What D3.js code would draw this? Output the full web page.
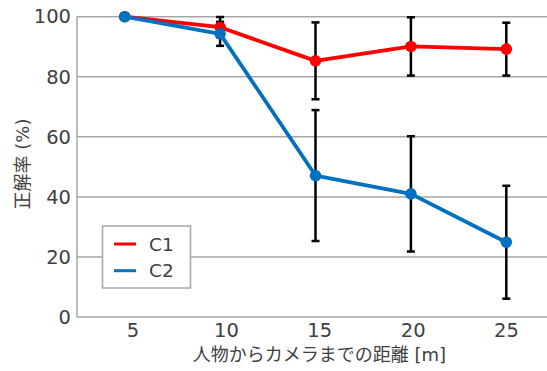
<!DOCTYPE html>
<html><head><meta charset="utf-8">
<script src="https://cdn.jsdelivr.net/npm/d3@7"></script>
<style>body{margin:0;background:#fff}svg{display:block}</style>
</head><body>
<svg id="c" width="547" height="371"></svg>
<script>
const categories = [5, 10, 15, 20, 25];
const c1Values = [100, 96.5, 85.3, 90.1, 89.2];
const c1Errors = [0, 3.4, 12.8, 9.7, 8.8];
const c2Values = [100, 94.3, 47.1, 41, 24.9];
const c2Errors = [0, 4, 21.8, 19.2, 18.8];
const yTicks = [0, 20, 40, 60, 80, 100];
const seriesNames = ["C1", "C2"];
const colors = ["#ff0000", "#0070c0"];

const svg = d3.select("#c");
const L = 77, R = 554, T = 16.7, B = 317;
const x = d3.scalePoint().domain(categories).range([L, R]).padding(0.5);
const xLab = d3.scalePoint().domain(categories).range([132.5, 506]);
const y = d3.scaleLinear().domain([0, 100]).range([B, T]);
const font = "'DejaVu Sans', 'Noto Sans CJK JP', sans-serif";
const textCol = "#404040";

// gridlines
svg.append("g").selectAll("line").data(yTicks.filter(d => d > 0)).join("line")
  .attr("x1", L).attr("x2", R).attr("y1", d => y(d)).attr("y2", d => y(d))
  .attr("stroke", "#a6a6a6").attr("stroke-width", 1.5);
// axes lines
svg.append("line").attr("x1", L).attr("x2", L).attr("y1", T).attr("y2", B)
  .attr("stroke", "#a6a6a6").attr("stroke-width", 1.5);
svg.append("line").attr("x1", L).attr("x2", R).attr("y1", B).attr("y2", B)
  .attr("stroke", "#a6a6a6").attr("stroke-width", 1.5);

// y tick labels
const yAxis = svg.append("g").attr("transform", `translate(${L},0)`)
  .call(d3.axisLeft(y).tickValues(yTicks).tickSize(0).tickPadding(6));
yAxis.select(".domain").remove();
yAxis.selectAll("text").attr("font-family", font).attr("font-size", 19.5).attr("fill", textCol);

// x tick labels
const xAxis = svg.append("g").attr("transform", `translate(0,${B})`)
  .call(d3.axisBottom(xLab).tickSize(0).tickPadding(6));
xAxis.select(".domain").remove();
xAxis.selectAll("text").attr("font-family", font).attr("font-size", 19.5).attr("fill", textCol);

// titles
svg.append("text").attr("x", (L + R) / 2 + 4).attr("y", 361).attr("text-anchor", "middle")
  .attr("font-family", font).attr("font-size", 18).attr("fill", textCol)
  .text("人物からカメラまでの距離 [m]");
svg.append("text").attr("transform", `translate(29,164) rotate(-90)`)
  .attr("text-anchor", "middle")
  .attr("font-family", font).attr("font-size", 18).attr("fill", textCol)
  .text("正解率 (%)");

const series = [
  { name: seriesNames[0], values: c1Values, errors: c1Errors, color: colors[0] },
  { name: seriesNames[1], values: c2Values, errors: c2Errors, color: colors[1] }
];

// error bars
const eg = svg.append("g");
series.forEach(s => {
  categories.forEach((c, i) => {
    const e = s.errors[i];
    if (!e) return;
    const cx = x(c);
    const y1 = y(Math.min(100, s.values[i] + e)), y2 = y(s.values[i] - e);
    eg.append("line").attr("x1", cx).attr("x2", cx).attr("y1", y1).attr("y2", y2)
      .attr("stroke", "#000").attr("stroke-width", 2.5);
    [y1, y2].forEach(yy => eg.append("line").attr("x1", cx - 4).attr("x2", cx + 4)
      .attr("y1", yy).attr("y2", yy).attr("stroke", "#000").attr("stroke-width", 2.5));
  });
});

// lines & markers
const line = d3.line().x((d, i) => x(categories[i])).y(d => y(d));
series.forEach(s => {
  svg.append("path").attr("d", line(s.values)).attr("fill", "none")
    .attr("stroke", s.color).attr("stroke-width", 3.8).attr("stroke-linejoin", "round");
  svg.append("g").selectAll("circle").data(s.values).join("circle")
    .attr("cx", (d, i) => x(categories[i])).attr("cy", d => y(d)).attr("r", 5.8)
    .attr("fill", s.color);
});

// legend
const lg = svg.append("g");
lg.append("rect").attr("x", 102.5).attr("y", 226).attr("width", 88).attr("height", 62)
  .attr("fill", "#fff").attr("stroke", "#a6a6a6").attr("stroke-width", 1.5);
series.forEach((s, i) => {
  const yy = 244 + i * 26.7;
  lg.append("line").attr("x1", 114).attr("x2", 136).attr("y1", yy).attr("y2", yy)
    .attr("stroke", s.color).attr("stroke-width", 3);
  lg.append("text").attr("x", 149).attr("y", yy + 6.5)
    .attr("font-family", font).attr("font-size", 18.5).attr("fill", textCol).text(s.name);
});
</script>
</body></html>
